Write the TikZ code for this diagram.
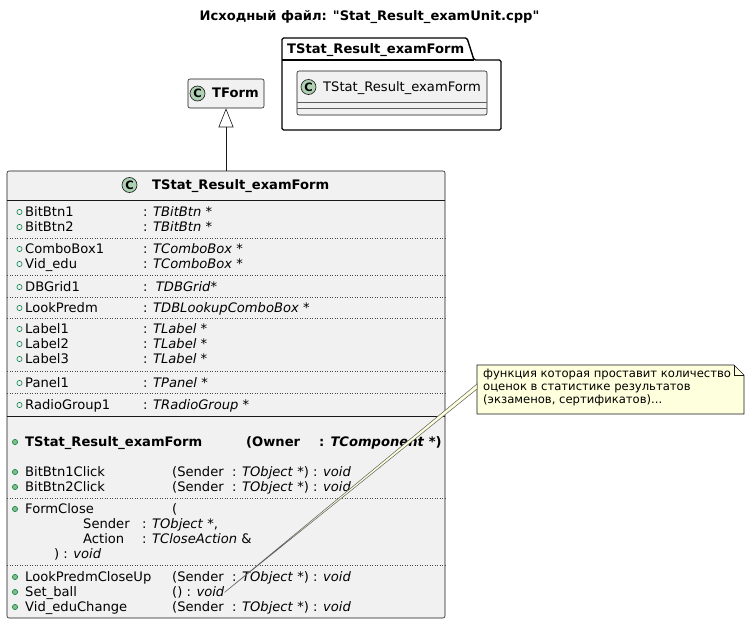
\documentclass[tikz,border=0pt]{standalone}
\usepackage{fontspec}
\setmainfont{DejaVu Sans}[Ligatures=TeXOff]
\usepackage{tikz}
\usetikzlibrary{arrows.meta}
\definecolor{clsfill}{HTML}{F1F1F1}
\definecolor{clsline}{HTML}{181818}
\definecolor{circfill}{HTML}{ADD1B2}
\definecolor{notefill}{HTML}{FEFFDD}
\definecolor{pubgreen}{HTML}{038048}
\definecolor{pubdot}{HTML}{84BE84}

\begin{document}
\begin{tikzpicture}[x=1pt,y=-1pt,
	txt/.style={inner sep=0pt,anchor=base west,font=\fontsize{13.1}{15}\selectfont},
	btxt/.style={txt,font=\fontsize{13.1}{15}\selectfont\bfseries},
	clsbox/.style={draw=clsline,fill=clsfill,line width=0.6pt,rounded corners=2pt,inner sep=0pt},
	circc/.style={draw=clsline,fill=circfill,line width=0.6pt},
	cletter/.style={inner sep=0pt,font=\fontsize{11.5}{11.5}\selectfont\bfseries},
	sepdot/.style={draw=clsline!80,line width=0.6pt,dash pattern=on 1pt off 1.5pt},
	sepsolid/.style={draw=clsline,line width=0.9pt},
	fieldmark/.style={draw=pubgreen,line width=0.6pt},
	methmark/.style={draw=pubgreen,fill=pubdot,line width=0.6pt}]
	\useasboundingbox (0,0) rectangle (750,623);
	
	\node[btxt,anchor=base] (title) at (369.5,20.5) {Исходный файл: "Stat\_Result\_examUnit.cpp"};
	
	% package with the inner class
	\draw[line width=1.4pt,rounded corners=1.5pt] (282,38) -- (467,38) -- (474,60) -- (501,60) -- (501,130) -- (282,130) -- cycle;
	\draw[line width=1.4pt] (282,60) -- (474,60);
	\node[btxt] (pkglbl) at (287,54) {TStat\_Result\_examForm};
	\node[clsbox,minimum width=190pt,minimum height=44pt] (inner) at (392,93) {};
	\draw[clsline!70,line width=0.6pt] (297,102) -- (487,102) (297,108) -- (487,108);
	\draw[circc] (308.5,87) circle (7.5pt) node[cletter] (cinner) {C};
	\node[txt] (innername) at (323,91.5) {TStat\_Result\_examForm};
	
	% base class
	\node[clsbox,minimum width=76pt,minimum height=29pt] (tform) at (226,93.5) {};
	\draw[circc] (197.5,93.5) circle (7.5pt) node[cletter] (ctform) {C};
	\node[btxt] (tformname) at (212,98) {TForm};
	
	% main class
	\node[clsbox,minimum width=438pt,minimum height=447pt] (main) at (226,394.5) {};
	\draw[circc] (129.5,185) circle (7.5pt) node[cletter] (cmain) {C};
	\node[btxt] (mainname) at (152,189.5) {TStat\_Result\_examForm};
	\draw[-{Triangle[open,length=19pt,width=15pt]},clsline,line width=0.6pt] (main.north) -- (tform.south);
	
	\draw[sepsolid] (7,200) -- (445,200);
	\draw[sepsolid] (7,416) -- (445,416);
	\foreach \y in {238,275,297,318,371,393,498,565}
	{
	\draw[sepdot] (7,\y) -- (445,\y);
	}
	
	% fields
	\foreach \y/\nm/\tp in {212/BitBtn1/TBitBtn,227/BitBtn2/TBitBtn,249/ComboBox1/TComboBox,264/Vid\_edu/TComboBox,308/LookPredm/TDBLookupComboBox,329/Label1/TLabel,344/Label2/TLabel,359/Label3/TLabel,383/Panel1/TPanel,405/RadioGroup1/TRadioGroup}
	{
	\draw[fieldmark] (19.5,\y) circle (2.6pt);
	\node[txt] (fn\y) at (25,\y+4.5) {\nm};
	\node[txt] (ft\y) at (143,\y+4.5) {: \textit{\tp} *};
	}
	\draw[fieldmark] (19.5,287) circle (2.6pt);
	\node[txt] (fn287) at (25,291.5) {DBGrid1};
	\node[txt] (ft287) at (143,291.5) {:\ \ \textit{TDBGrid}*};
	
	% methods
	\foreach \y in {442,472,487,509,577,592,607}
	{
	\draw[methmark] (15,\y) circle (2.6pt);
	}
	\node[btxt] (ctor) at (25,446.5) {TStat\_Result\_examForm};
	\node[btxt] (ctorarg) at (246,446.5) {(Owner};
	\node[btxt] (ctortype) at (319,446.5) {: \textit{TComponent} *)};
	\foreach \y/\nm in {472/BitBtn1Click,487/BitBtn2Click,577/LookPredmCloseUp,607/Vid\_eduChange}
	{
	\node[txt] (mn\y) at (25,\y+4.5) {\nm};
	\node[txt] (ma\y) at (172,\y+4.5) {(Sender};
	\node[txt] (mt\y) at (232,\y+4.5) {: \textit{TObject} *) : \textit{void}};
	}
	\node[txt] (mn509) at (25,513.5) {FormClose};
	\node[txt] (ma509) at (172,513.5) {(};
	\node[txt] (sender) at (83,528.5) {Sender};
	\node[txt] (sendert) at (142,528.5) {: \textit{TObject} *,};
	\node[txt] (action) at (83,543.5) {Action};
	\node[txt] (actiont) at (142,543.5) {: \textit{TCloseAction} \&};
	\node[txt] (fcret) at (54,558.5) {) : \textit{void}};
	\node[txt] (mn592) at (25,596.5) {Set\_ball};
	\node[txt] (ma592) at (172,596.5) {() : \textit{void}};
	
	% note
	\draw[draw=clsline,fill=notefill,line width=0.6pt] (477,365) -- (734,365) -- (744,375) -- (744,414) -- (477,414) -- cycle;
	\draw[clsline,line width=0.6pt] (734,365) -- (734,375) -- (744,375);
	\node[inner sep=0pt,anchor=north west,align=left,font=\fontsize{11.6}{13}\selectfont] (note) at (483,369) {функция которая проставит количество\\оценок в статистике результатов\\(экзаменов, сертификатов)...};
	\coordinate (notew) at (477,386.5);
	\filldraw[draw=clsline!70,fill=notefill,line width=0.5pt] (ma592.east) -- ([yshift=2.5pt]notew) -- ([yshift=-2.5pt]notew) -- cycle;
\end{tikzpicture}
\end{document}
